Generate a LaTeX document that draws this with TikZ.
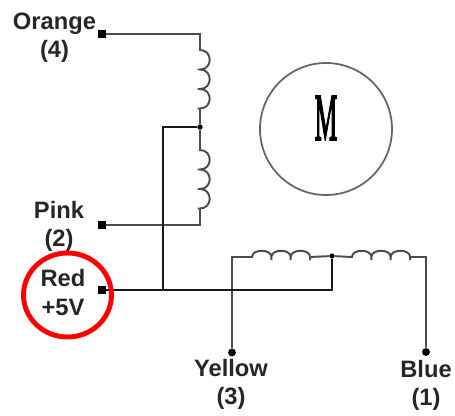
\documentclass[tikz,border=0pt]{standalone}
\usepackage{fontspec}
\setmainfont{Liberation Sans}
\newfontfamily\motorfont[FakeBold=3]{Liberation Serif}
\usetikzlibrary{positioning}
\tikzset{
    wirelabel/.style={align=center,inner sep=0pt,text=black!85,font=\fontsize{13.5}{16}\selectfont\bfseries},
    termbox/.style={rectangle,fill=black,inner sep=0pt,minimum size=4pt},
    termdot/.style={circle,fill=black,inner sep=0pt,minimum size=4.5pt},
    joindot/.style={circle,fill=black,inner sep=0pt,minimum size=3pt},
    wire/.style={black!70,line width=1.1pt},
    heavywire/.style={black!90,line width=1.2pt}
}
\newcommand{\humpdown}{to [out=0,in=0,looseness=1.7] ++(0,-0.39) -- ++(-0.05,0) -- ++(0.05,0)}
\newcommand{\humpright}{to [out=90,in=90,looseness=1.1] ++(0.387,0) -- ++(0,-0.06) -- ++(0,0.06)}

\begin{document}
\begin{tikzpicture}
                \useasboundingbox (0,0) rectangle (9.1,8.3);

                \node [termbox] (orange) at (2.04,7.62) {};
                \node [termbox] (pink) at (2.04,3.80) {};
                \node [termbox] (red) at (2.04,2.50) {};
                \node [termdot] (yellow) at (4.64,1.25) {};
                \node [termdot] (blue) at (8.52,1.26) {};
                \node [joindot] (vcenter) at (4,5.76) {};
                \node [joindot] (hcenter) at (6.64,3.18) {};

                \coordinate (vtopstart) at (4,7.30);
                \coordinate (vlowstart) at (4,5.30);
                \coordinate (hleftstart) at (5.04,3.16);
                \coordinate (hrightstart) at (7.04,3.16);
                \coordinate (bluecorner) at (8.52,3.16);
                \coordinate (vtee) at (3.26,5.76);
                \coordinate (redtee) at (3.26,2.50);
                \coordinate (redtap) at (6.64,2.50);

                \node [wirelabel] (orangelbl) at (1.09,7.54) {Orange\\(4)};
                \node [wirelabel] (pinklbl) at (1.18,3.78) {Pink\\(2)};
                \node [wirelabel] (redlbl) at (1.26,2.45) {Red\\+5V};
                \node [wirelabel] (yellowlbl) at (4.62,0.61) {Yellow\\(3)};
                \node [wirelabel] (bluelbl) at (8.52,0.60) {Blue\\(1)};

                \draw [wire] (orange) -| (vtopstart)
                    \humpdown \humpdown \humpdown
                    -- (vcenter)
                ;
                \draw [wire] (vcenter) -- (vlowstart)
                    \humpdown \humpdown \humpdown
                    |- (pink)
                ;
                \draw [wire] (yellow) |- (hleftstart)
                    \humpright \humpright \humpright
                    -- (hcenter)
                ;
                \draw [wire] (hcenter) -- (hrightstart)
                    \humpright \humpright \humpright
                    -- (bluecorner) -- (blue)
                ;

                \draw [heavywire] (vcenter) -- (vtee) -- (redtee);
                \draw [heavywire] (red) -- (redtap) -- (hcenter);

                \node [circle,draw=black!60,line width=1pt,minimum size=2.64cm,inner sep=0pt] (motor) at (6.52,5.72) {};
                \node [font=\motorfont\fontsize{38}{38}\selectfont,xscale=0.38,inner sep=0pt] (motorlbl) at (6.52,5.94) {M};

                \draw [red,line width=2.8pt] (1.35,2.40) ellipse (0.88 and 0.84);
\end{tikzpicture}
\end{document}
